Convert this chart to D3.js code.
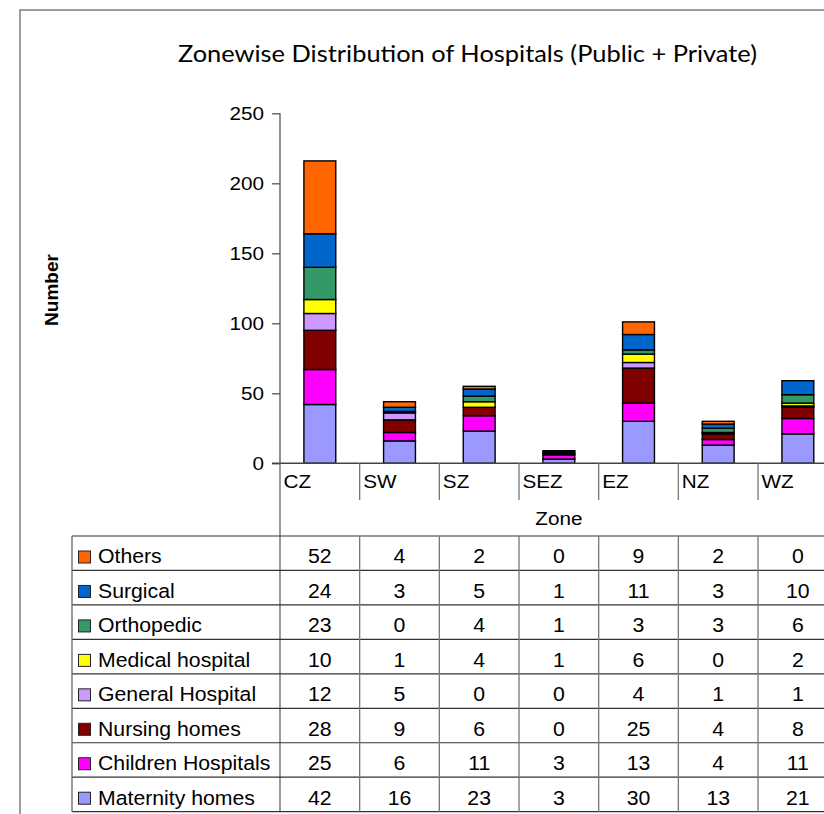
<!DOCTYPE html>
<html>
<head>
<meta charset="utf-8">
<script src="https://cdn.jsdelivr.net/npm/d3@7"></script>
<style>
  html, body { margin: 0; padding: 0; background: #fff; }
  svg { display: block; }
  text { font-family: "Liberation Sans", Arial, sans-serif; fill: #000; }
</style>
</head>
<body>
<svg id="chart" width="824" height="814"></svg>
<script>
// Zones along the category axis
const zones = ["CZ", "SW", "SZ", "SEZ", "EZ", "NZ", "WZ"];

// Hospital types, stacked from the bottom up
const seriesNames = ["Maternity homes", "Children Hospitals", "Nursing homes", "General Hospital",
                     "Medical hospital", "Orthopedic", "Surgical", "Others"];
const seriesColors = ["#9999FF", "#FF00FF", "#800000", "#CC99FF",
                      "#FFFF00", "#339966", "#0066CC", "#FF6600"];

// Counts per zone for each type (same order as zones)
const maternity = [42, 16, 23, 3, 30, 13, 21];
const children  = [25, 6, 11, 3, 13, 4, 11];
const nursing   = [28, 9, 6, 0, 25, 4, 8];
const general   = [12, 5, 0, 0, 4, 1, 1];
const medical   = [10, 1, 4, 1, 6, 0, 2];
const ortho     = [23, 0, 4, 1, 3, 3, 6];
const surgical  = [24, 3, 5, 1, 11, 3, 10];
const others    = [52, 4, 2, 0, 9, 2, 0];

const yTicks = [0, 50, 100, 150, 200, 250];
const titleText = "Zonewise Distribution of Hospitals (Public + Private)";

const seriesValues = [maternity, children, nursing, general, medical, ortho, surgical, others];
const rows = zones.map((z, i) => {
  const r = { zone: z };
  seriesNames.forEach((s, k) => { r[s] = seriesValues[k][i]; });
  return r;
});
const stacked = d3.stack().keys(seriesNames)(rows);

const svg = d3.select("#chart");
const SX = 1.09; // horizontal stretch of the text glyphs

// geometry
const plotLeft = 280, plotRight = 837.7;
const yBase = 463.3, yTop = 113.3;
const tableLeft = 72, tableTop = 536, rowH = 34.46;

const x = d3.scaleBand().domain(zones).range([plotLeft, plotRight]).padding(0);
const y = d3.scaleLinear().domain([0, 250]).range([yBase, yTop]);
const bw = x.bandwidth() * 0.4;

function stretchedText(sel, tx, ty) {
  return sel.attr("transform", `translate(${tx},${ty}) scale(${SX},1)`);
}

// outer frame
svg.append("rect")
  .attr("x", 20).attr("y", 10).attr("width", 840).attr("height", 830)
  .attr("fill", "none").attr("stroke", "#7f7f7f").attr("stroke-width", 1.5);

// title
svg.append("text")
  .attr("x", 467.5).attr("y", 62)
  .attr("text-anchor", "middle")
  .style("font-family", "Lato, 'Open Sans', sans-serif")
  .style("font-size", "23px")
  .attr("textLength", 579).attr("lengthAdjust", "spacingAndGlyphs")
  .text(titleText);

// y axis label
svg.append("text")
  .attr("transform", "translate(58,290) rotate(-90)")
  .attr("text-anchor", "middle")
  .style("font-size", "19px").style("font-weight", "bold")
  .text("Number");

// bars
const layer = svg.append("g").selectAll("g")
  .data(stacked).join("g")
  .attr("fill", (d, i) => seriesColors[i]);
layer.selectAll("rect")
  .data(d => d).join("rect")
  .attr("x", d => x(d.data.zone) + (x.bandwidth() - bw) / 2)
  .attr("width", bw)
  .attr("y", d => y(d[1]))
  .attr("height", d => y(d[0]) - y(d[1]))
  .attr("stroke", "#000").attr("stroke-width", 1.4);

// y axis
const yAxis = svg.append("g").attr("transform", `translate(${plotLeft},0)`)
  .call(d3.axisLeft(y).tickValues(yTicks).tickSize(8).tickPadding(7).tickFormat(d3.format("d")));
yAxis.select(".domain").attr("stroke", "#555").attr("stroke-width", 1.3).attr("d", `M0,${yTop}V${yBase}`);
yAxis.selectAll(".tick line").attr("stroke", "#555").attr("stroke-width", 1.3);
yAxis.selectAll(".tick text").each(function () {
  const t = d3.select(this);
  t.attr("x", null).attr("dy", null)
   .attr("text-anchor", "end").attr("dominant-baseline", "central");
  stretchedText(t, -16, 0);
}).style("font-size", "19px").style("font-family", "'Liberation Sans', Arial, sans-serif").attr("fill", "#000");

// x axis baseline
svg.append("line")
  .attr("x1", plotLeft - 8).attr("x2", 824).attr("y1", yBase).attr("y2", yBase)
  .attr("stroke", "#444").attr("stroke-width", 1.4);

// zone dividers below the axis and zone labels
const tableBottom = tableTop + rowH * seriesNames.length;
svg.append("line")
  .attr("x1", plotLeft).attr("x2", plotLeft).attr("y1", yBase).attr("y2", tableBottom)
  .attr("stroke", "#666").attr("stroke-width", 1.3);
zones.forEach((z, i) => {
  if (i > 0) {
    svg.append("line")
      .attr("x1", x(z)).attr("x2", x(z)).attr("y1", yBase).attr("y2", 500)
      .attr("stroke", "#777").attr("stroke-width", 1.3);
  }
  stretchedText(svg.append("text"), x(z) + 3.5, 488)
    .style("font-size", "19px").text(z);
});

// x axis title
stretchedText(svg.append("text"), (plotLeft + plotRight) / 2, 525)
  .attr("text-anchor", "middle").style("font-size", "19px").text("Zone");

// data table: rows listed top-down from the last stacked series
const tableOrder = seriesNames.map((s, k) => k).reverse();
const tg = svg.append("g");
for (let r = 0; r <= seriesNames.length; r++) {
  const yy = tableTop + r * rowH;
  tg.append("line")
    .attr("x1", tableLeft).attr("x2", 824).attr("y1", yy).attr("y2", yy)
    .attr("stroke", "#333").attr("stroke-width", 1.2);
}
tg.append("line")
  .attr("x1", tableLeft).attr("x2", tableLeft).attr("y1", tableTop).attr("y2", tableBottom)
  .attr("stroke", "#666").attr("stroke-width", 1.3);
zones.forEach((z, i) => {
  if (i > 0) {
    tg.append("line")
      .attr("x1", x(z)).attr("x2", x(z)).attr("y1", tableTop).attr("y2", tableBottom)
      .attr("stroke", "#777").attr("stroke-width", 1.3);
  }
});
tableOrder.forEach((k, r) => {
  const top = tableTop + r * rowH;
  tg.append("rect")
    .attr("x", 78.5).attr("y", top + 15).attr("width", 12).attr("height", 12)
    .attr("fill", seriesColors[k]).attr("stroke", "#222").attr("stroke-width", 1);
  stretchedText(tg.append("text"), 98, top + 27.3)
    .style("font-size", "19.5px").text(seriesNames[k]);
  zones.forEach((z, i) => {
    stretchedText(tg.append("text"), x(z) + x.bandwidth() / 2, top + 27.3)
      .attr("text-anchor", "middle").style("font-size", "19.5px")
      .text(seriesValues[k][i]);
  });
});
</script>
</body>
</html>
